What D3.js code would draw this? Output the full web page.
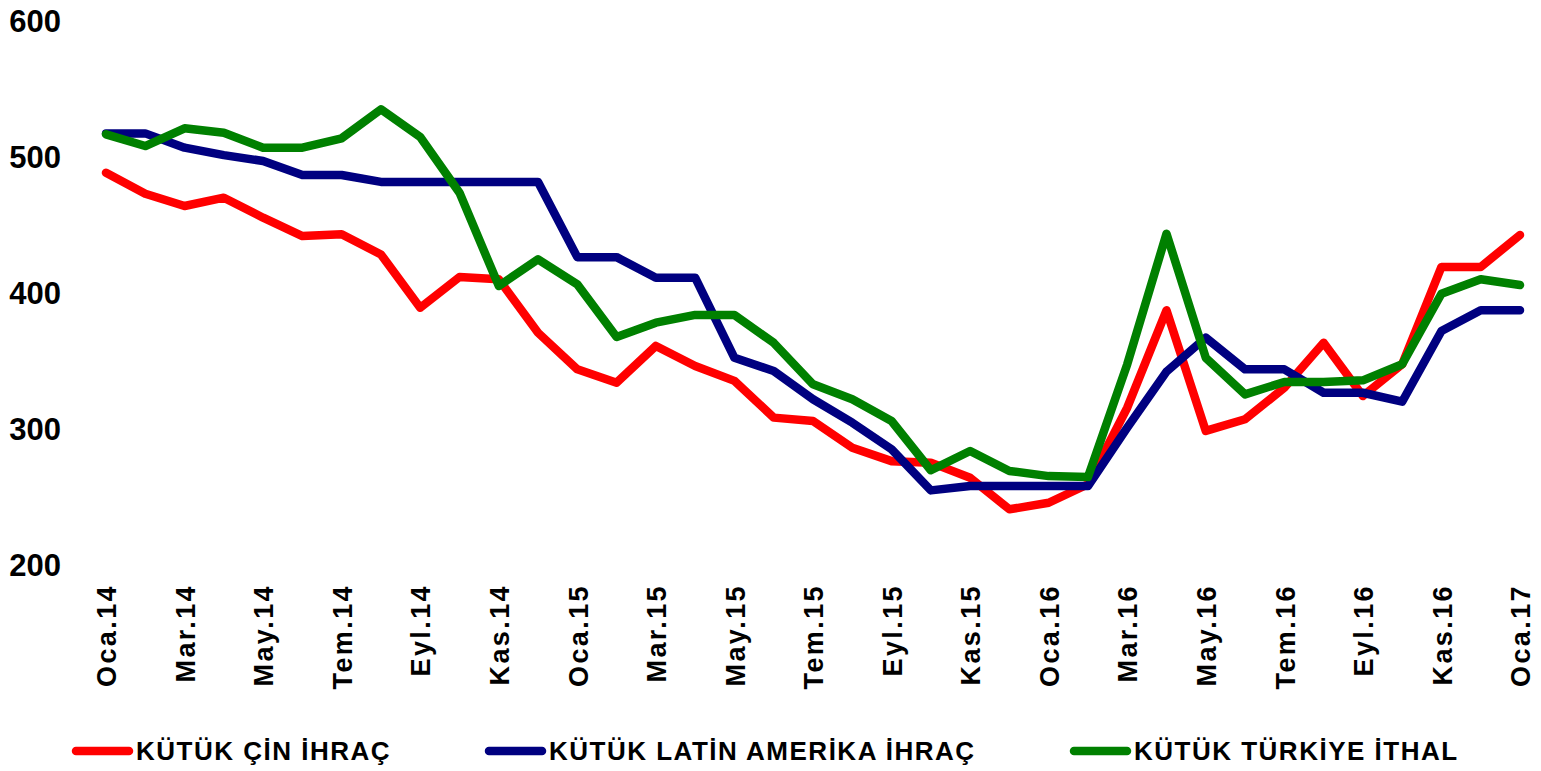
<!DOCTYPE html>
<html>
<head>
<meta charset="utf-8">
<script src="https://cdn.jsdelivr.net/npm/d3@7"></script>
<style>
	body { margin: 0; background: #fff; }
	svg text { font-family: "Liberation Sans", Arial, sans-serif; font-weight: bold; fill: #000; }
</style>
</head>
<body>
<div id="chart"></div>
<script>

// month labels, Oca.14 .. Oca.17
var monthNames = ["Oca","Şub","Mar","Nis","May","Haz","Tem","Ağu","Eyl","Eki","Kas","Ara"];
var years = ["14","15","16","17"];
var months = [];
for (var i = 0; i < 37; i++){
	months.push(monthNames[i % 12] + "." + years[Math.floor(i / 12)]);
}

// series values ($/ton)
var cinIhrac = [488, 472.6, 463.6, 469.7, 455, 441.5, 442.8, 428, 388.8, 411.4, 409.7, 370.4,
	343.5, 333.7, 360.7, 346, 335, 308, 305.5, 285.9, 276, 274.9, 263.8, 240.6,
	245.4, 259, 315.3, 386.9, 298.2, 306.8, 330, 363, 323.9, 347.2, 418.8, 418.8,
	442.3];
var latinIhrac = [517, 517, 506.5, 501, 496.7, 486.4, 486.4, 481.3, 481.3, 481.3, 481.3, 481.3,
	426, 426, 410.9, 410.9, 352, 342.3, 321.5, 304.3, 284.7, 254.5, 257.7, 257.7,
	257.7, 257.7, 300.6, 341.8, 366.8, 343.5, 343.5, 326.3, 326.3, 319.7, 371.7, 386.9,
	386.9];
var turkiyeIthal = [516.3, 507.7, 520.7, 517.5, 506.5, 506.5, 513.4, 534.7, 514.3, 473.4, 404.8, 424.4,
	406, 367.3, 377.8, 383.5, 383.5, 363, 332.5, 321.5, 305.5, 269.3, 283.5, 268.8,
	265, 264.3, 347.2, 443.2, 352, 325.1, 334.2, 334.2, 335.4, 347.2, 399.1, 409.7,
	405.5];

var yTicks = [200, 300, 400, 500, 600];

var series = [
	{"name": "KÜTÜK ÇİN İHRAÇ", "values": cinIhrac, "color": "#ff0000", "lx": 76},
	{"name": "KÜTÜK LATİN AMERİKA İHRAÇ", "values": latinIhrac, "color": "#000080", "lx": 489},
	{"name": "KÜTÜK TÜRKİYE İTHAL", "values": turkiyeIthal, "color": "#008000", "lx": 1074}
];

var width = 1541, height = 771;

var svg = d3.select("#chart").append("svg")
	.attr("width", width)
	.attr("height", height);

var xScale = d3.scaleLinear()
	.domain([0, months.length - 1])
	.range([106, 1520]);

var yScale = d3.scaleLinear()
	.domain([200, 600])
	.range([564.5, 20.5]);

// y axis (labels only)
var yAxis = d3.axisLeft(yScale).tickValues(yTicks).tickSize(0).tickPadding(0);
var gy = svg.append("g")
	.attr("class", "y axis")
	.attr("transform", "translate(61,0)")
	.call(yAxis);
gy.select(".domain").remove();
gy.selectAll("text")
	.attr("x", 0)
	.attr("dy", "0.34em")
	.style("font-size", "31px");

// x axis, every second month, rotated
var xAxis = d3.axisBottom(xScale)
	.tickValues(d3.range(0, months.length, 2))
	.tickFormat(function(d){ return months[d] })
	.tickSize(0);
var gx = svg.append("g")
	.attr("class", "x axis")
	.attr("transform", "translate(0,584)")
	.call(xAxis);
gx.select(".domain").remove();
gx.selectAll("text")
	.attr("x", 0)
	.attr("y", 0)
	.attr("dy", "0.36em")
	.attr("transform", "rotate(-90)")
	.style("text-anchor", "end")
	.style("font-size", "27px")
	.style("letter-spacing", "2.4px");

// lines
var line = d3.line()
	.x(function(d, i){ return xScale(i) })
	.y(function(d){ return yScale(d) });

svg.selectAll(".series")
	.data(series).enter()
	.append("path")
		.attr("class", "series")
		.attr("d", function(d){ return line(d.values) })
		.style("fill", "none")
		.style("stroke", function(d){ return d.color })
		.style("stroke-width", 8.5)
		.style("stroke-linejoin", "round")
		.style("stroke-linecap", "round");

// legend
var legend = svg.selectAll(".legend")
	.data(series).enter()
	.append("g")
		.attr("class", "legend")
		.attr("transform", function(d){ return "translate(" + d.lx + ",751)" });

legend.append("line")
	.attr("x1", 0).attr("x2", 53)
	.attr("y1", 0).attr("y2", 0)
	.style("stroke", function(d){ return d.color })
	.style("stroke-width", 8.5)
	.style("stroke-linecap", "round");

legend.append("text")
	.attr("x", 60)
	.attr("y", 0)
	.attr("dy", "0.36em")
	.style("font-size", "26px")
	.style("letter-spacing", "1.5px")
	.text(function(d){ return d.name });

</script>
</body>
</html>
